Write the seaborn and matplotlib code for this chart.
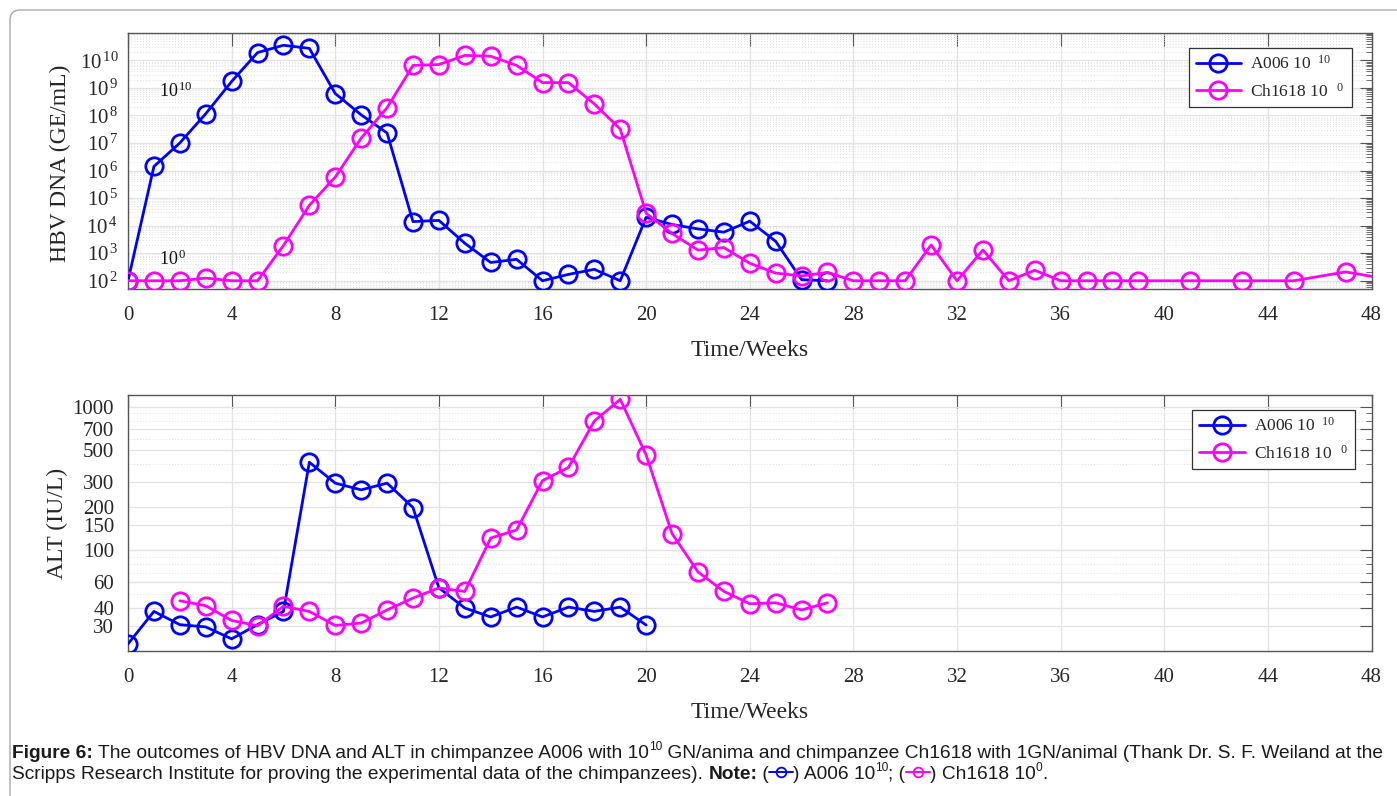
import numpy as np
import pandas as pd
import matplotlib
matplotlib.use("Agg")
import matplotlib.pyplot as plt
import matplotlib.ticker as mticker
from matplotlib.lines import Line2D
from matplotlib.patches import FancyBboxPatch
import seaborn as sns

# ---- HBV DNA (GE/mL) ----
weeks_a006_dna = list(range(0, 28))
a006_dna = [1.0e2, 1.4e6, 1.0e7, 1.15e8, 1.7e9, 1.9e10, 3.5e10, 2.7e10, 6.2e8, 1.05e8,
            2.3e7, 1.4e4, 1.55e4, 2.3e3, 4.6e2, 6.0e2, 1.0e2, 1.7e2, 2.6e2, 1.0e2,
            2.0e4, 1.1e4, 7.6e3, 5.8e3, 1.45e4, 2.7e3, 1.1e2, 1.0e2]

weeks_ch1618_dna = list(range(0, 40)) + [41, 43, 45, 47, 49]
ch1618_dna = [1.0e2, 1.0e2, 1.0e2, 1.25e2, 1.0e2, 1.0e2, 1.9e3, 5.5e4, 5.8e5, 1.5e7,
              1.9e8, 6.5e9, 7.0e9, 1.5e10, 1.4e10, 6.5e9, 1.55e9, 1.55e9, 2.6e8, 3.2e7,
              2.8e4, 5.2e3, 1.3e3, 1.6e3, 4.3e2, 1.9e2, 1.5e2, 2.0e2, 1.0e2, 1.0e2,
              1.0e2, 2.0e3, 1.0e2, 1.3e3, 1.0e2, 2.4e2, 1.0e2, 1.0e2, 1.0e2, 1.0e2,
              1.0e2, 1.0e2, 1.0e2, 2.1e2, 1.0e2]

# ---- ALT (IU/L) ----
weeks_a006_alt = list(range(0, 21))
a006_alt = [22.4, 37.7, 30.5, 29.4, 24.3, 30.5, 37.7, 411, 294, 264, 294, 199, 55,
            39.8, 34.5, 40.4, 34.5, 40.4, 37.7, 40.4, 30.3]

weeks_ch1618_alt = list(range(2, 28))
ch1618_alt = [44.7, 41.3, 32.6, 30.0, 40.9, 37.7, 30.1, 31.3, 38.6, 46.7, 54.9, 51.9,
              122, 139, 306, 378, 795, 1125, 462, 131, 71, 52, 42.6, 43.3, 38.6, 43.3]

dna_exponents = [2, 3, 4, 5, 6, 7, 8, 9, 10]
alt_ticks = [30, 40, 60, 100, 150, 200, 300, 500, 700, 1000]
alt_minor = [20, 50, 70, 80, 90, 400, 600, 800, 900]
week_ticks = list(range(0, 49, 4))

label_a006 = r"A006 10$^{\;\;\;10}$"
label_ch1618 = r"Ch1618 10$^{\;\;\;\;0}$"

BLUE = "#0000ff"
MAGENTA = "#ff00ff"
TXT = "#262626"

sns.set_theme(style="white")
plt.rcParams["font.family"] = ["Liberation Serif", "DejaVu Serif"]
plt.rcParams["mathtext.fontset"] = "custom"
plt.rcParams["mathtext.rm"] = "Liberation Serif"
plt.rcParams["mathtext.it"] = "Liberation Serif:italic"
plt.rcParams["mathtext.bf"] = "Liberation Serif:bold"

W, H = 1397, 796
fig = plt.figure(figsize=(W / 100, H / 100), dpi=100)
fig.patch.set_facecolor("white")

ax1 = fig.add_axes([128 / W, 1 - 289.3 / H, (1371.5 - 128) / W, (289.3 - 32.7) / H])
ax2 = fig.add_axes([128 / W, 1 - 651 / H, (1371.5 - 128) / W, (651 - 395) / H])


def draw_series(ax, weeks, values, color, label):
    df = pd.DataFrame({"week": weeks, "value": values})
    sns.lineplot(data=df, x="week", y="value", color=color, label=label,
                 marker="o", markersize=12.5, markerfacecolor="none",
                 markeredgecolor=color, markeredgewidth=2.0, linewidth=2.0,
                 ax=ax, zorder=3)


def style_axes(ax):
    ax.set_xlim(0, 48)
    ax.set_xticks(week_ticks)
    ax.xaxis.set_minor_locator(mticker.NullLocator())
    ax.tick_params(which="both", direction="in", top=True, right=True,
                   color="#555555", labelcolor=TXT)
    ax.tick_params(which="major", length=9, width=0.8, labelsize=15)
    ax.tick_params(which="minor", length=4.5, width=0.6)
    ax.tick_params(axis="x", pad=12)
    for sp in ax.spines.values():
        sp.set_color("#555555")
        sp.set_linewidth(1.0)
    ax.grid(True, which="major", color="#e3e3e3", linewidth=0.9, linestyle="-")
    ax.grid(True, which="minor", axis="y", color="#d6d6d6", linewidth=0.6,
            linestyle=(0, (1, 2.5)))
    ax.set_axisbelow(True)
    ax.set_xlabel("Time/Weeks", fontsize=17, color=TXT, labelpad=11)


def add_legend(ax, anchor):
    leg = ax.legend(loc="upper right", bbox_to_anchor=anchor, borderaxespad=0,
                    fontsize=12.5, handlelength=2.6, handletextpad=0.55,
                    labelspacing=0.55, frameon=True, fancybox=False,
                    framealpha=1, borderpad=0.4)
    leg.get_frame().set_edgecolor("#333333")
    leg.get_frame().set_linewidth(0.9)
    for t in leg.get_texts():
        t.set_color(TXT)


# ---- top panel: HBV DNA ----
draw_series(ax1, weeks_a006_dna, a006_dna, BLUE, label_a006)
draw_series(ax1, weeks_ch1618_dna, ch1618_dna, MAGENTA, label_ch1618)
ax1.set_yscale("log")
ax1.set_ylim(49, 1e11)
ax1.yaxis.set_major_locator(mticker.FixedLocator([10.0 ** e for e in dna_exponents]))
ax1.yaxis.set_major_formatter(mticker.FixedFormatter(
    [r"$10^{\,%d}$" % e for e in dna_exponents]))
ax1.yaxis.set_minor_locator(mticker.LogLocator(base=10, subs=np.arange(2, 10), numticks=30))
ax1.yaxis.set_minor_formatter(mticker.NullFormatter())
style_axes(ax1)
ax1.tick_params(axis="y", pad=7)
ax1.set_ylabel("HBV DNA (GE/mL)", fontsize=17, color=TXT)
ax1.yaxis.set_label_coords(-0.046, 0.49)
ax1.text(1.2, 10 ** 8.67, r"$10^{\,10}$", fontsize=13, color="#111111", va="baseline")
ax1.text(1.2, 10 ** 2.57, r"$10^{\,0}$", fontsize=13, color="#111111", va="baseline")
add_legend(ax1, (0.984, 0.94))

# ---- bottom panel: ALT ----
draw_series(ax2, weeks_a006_alt, a006_alt, BLUE, label_a006)
draw_series(ax2, weeks_ch1618_alt, ch1618_alt, MAGENTA, label_ch1618)
ax2.set_yscale("log")
ax2.set_ylim(20, 1206)
ax2.yaxis.set_major_locator(mticker.FixedLocator(alt_ticks))
ax2.yaxis.set_major_formatter(mticker.FixedFormatter([str(v) for v in alt_ticks]))
ax2.yaxis.set_minor_locator(mticker.FixedLocator(alt_minor))
ax2.yaxis.set_minor_formatter(mticker.NullFormatter())
style_axes(ax2)
ax2.tick_params(axis="y", pad=10)
ax2.set_ylabel("ALT (IU/L)", fontsize=17, color=TXT)
ax2.yaxis.set_label_coords(-0.048, 0.5)
add_legend(ax2, (0.987, 0.941))

# ---- frame around the figure ----
fig.add_artist(FancyBboxPatch((0.1, -1.0), 20, 8.86,
                              boxstyle="round,pad=0,rounding_size=0.1",
                              transform=fig.dpi_scale_trans, facecolor="none",
                              edgecolor="#a8a8a8", linewidth=1.0))

# ---- caption ----
renderer = fig.canvas.get_renderer()
CAP = 13.8


def text_width(s, **kw):
    t = fig.text(0, 0, "|" + s + "|", **kw)
    w1 = t.get_window_extent(renderer).width
    t.set_text("||")
    w0 = t.get_window_extent(renderer).width
    t.remove()
    return w1 - w0


def caption_line(runs, y_px):
    x = 12.0
    px = 100 / 72
    for kind, s, color in runs:
        if kind == "sym":
            yc = y_px - CAP * 0.36 * px
            fig.add_artist(Line2D([x / W, (x + 12) / W, (x + 24) / W], [1 - yc / H] * 3,
                                  color=color, lw=1.4, marker="o", markevery=[1],
                                  markersize=7, markerfacecolor="none",
                                  markeredgewidth=1.3))
            x += 24
            continue
        kw = dict(family=["Liberation Sans", "DejaVu Sans"], color="#1a1a1a",
                  fontweight="bold" if kind == "bold" else "normal",
                  fontsize=CAP * 0.62 if kind == "sup" else CAP)
        dy = CAP * 0.42 * px if kind == "sup" else 0
        fig.text(x / W, 1 - (y_px - dy) / H, s, va="baseline", ha="left", **kw)
        x += text_width(s, **kw)


caption_line([
    ("bold", "Figure 6:", None),
    ("norm", " The outcomes of HBV DNA and ALT in chimpanzee A006 with 10", None),
    ("sup", "10", None),
    ("norm", " GN/anima and chimpanzee Ch1618 with 1GN/animal (Thank Dr. S. F. Weiland at the", None),
], 758)
caption_line([
    ("norm", "Scripps Research Institute for proving the experimental data of the chimpanzees). ", None),
    ("bold", "Note:", None),
    ("norm", " (", None),
    ("sym", "", BLUE),
    ("norm", ") A006 10", None),
    ("sup", "10", None),
    ("norm", "; (", None),
    ("sym", "", MAGENTA),
    ("norm", ") Ch1618 10", None),
    ("sup", "0", None),
    ("norm", ".", None),
], 779)

fig.savefig("out.png", dpi=100)
plt.close(fig)
